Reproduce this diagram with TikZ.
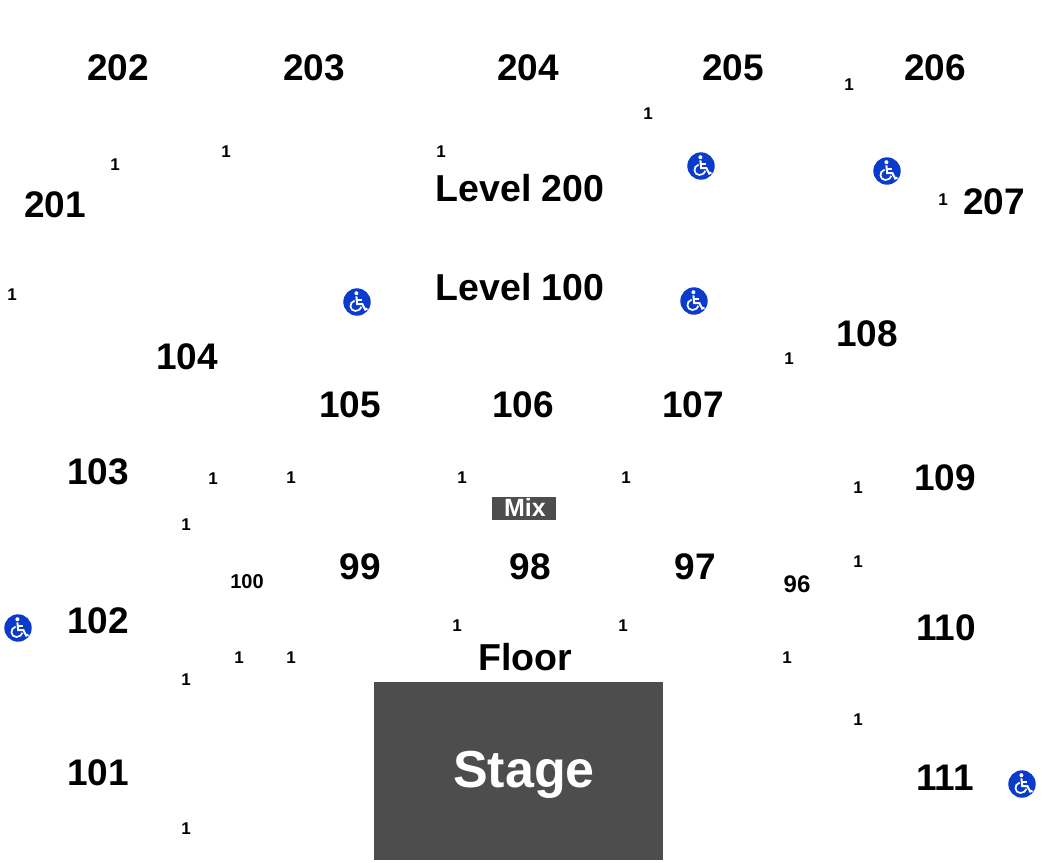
\documentclass[tikz,border=0pt]{standalone}
\usepackage{fontspec}
\setmainfont{Liberation Sans}
\definecolor{stagegray}{HTML}{4D4D4D}
\definecolor{wcblue}{HTML}{0A3BCC}
\tikzset{
  sec/.style={font=\fontsize{37}{37}\selectfont\bfseries,text=black,inner sep=0pt,anchor=center},
  lvl/.style={font=\fontsize{37.5}{38}\selectfont\bfseries,text=black,inner sep=0pt,anchor=center},
  cnt/.style={font=\fontsize{17}{17}\selectfont\bfseries,text=black,inner sep=0pt,anchor=center},
  wc/.pic={
    \fill[wcblue] (0,0) circle (13.7);
    \fill[white] (-0.6,-8.8) circle (2);
    \draw[white,line width=2,line join=miter] (-0.6,-5.6) -- (0.2,2.2) -- (5.4,2.2) -- (8.2,7.6) -- (10.4,6.6);
    \draw[white,line width=1.6] (0,-1.8) -- (5,-1.8);
    \draw[white,line width=1.7] (-2.4,-1.4) .. controls (-8.4,0.4) and (-7.6,9) .. (-1.6,9) .. controls (1.6,9) and (3.8,7) .. (4.4,4.8);
  }
}
\begin{document}
\begin{tikzpicture}[x=1pt,y=-1pt]
\useasboundingbox (0,0) rectangle (1043,862);
\fill[white] (0,0) rectangle (1043,862);
% stage and mix
\node[fill=stagegray,draw=none,minimum width=289,minimum height=178,inner sep=0pt] (stage) at (518.5,771) {};
\node[font=\fontsize{52}{52}\selectfont\bfseries,text=white,inner sep=0pt] (stagelabel) at (524,775) {Stage};
\node[fill=stagegray,minimum width=64,minimum height=23,inner sep=0pt] (mix) at (524,508) {};
\node[font=\fontsize{25}{25}\selectfont\bfseries,text=white,inner sep=0pt] (mixlabel) at (525,507.5) {Mix};
% sections
\foreach \n/\x/\y in {202/118/68,203/314/68,204/528/68,205/733/68,206/935/68,201/55/205,207/994/202,
 104/187/357,108/867/334,105/350/405,106/523/405,107/693/405,103/98/472,109/945/478,
 99/360/567,98/530/567,97/695/567,102/98/621,110/946/628,101/98/773,111/945/778}
  \node[sec] (s\n) at (\x,\y) {\n};
\node[lvl] (l200) at (520,188.5) {Level 200};
\node[lvl] (l100) at (520,287.5) {Level 100};
\node[lvl] (floor) at (525,657) {Floor};
\node[font=\fontsize{20}{20}\selectfont\bfseries,inner sep=0pt] (s100) at (247,582) {100};
\node[font=\fontsize{24}{24}\selectfont\bfseries,inner sep=0pt] (s96) at (797,584) {96};
% seat counts
\foreach \i/\x/\y in {a/849/85,b/648/114,c/115/165,d/226/152,e/441/152,f/943/200,g/12/295,h/789/359,
 i/213/479,j/291/478,k/462/478,l/626/478,m/858/488,n/186/525,o/858/562,p/457/626,q/623/626,
 r/239/658,s/291/658,t/787/658,u/186/680,v/858/720,w/186/829}
  \node[cnt] (c\i) at (\x,\y) {1};
% accessibility icons
\foreach \i/\x/\y in {1/701/166,2/887/171,3/357/302,4/694/301,5/18/628,6/1022/784}
  \pic (w\i) at (\x,\y) {wc};
\end{tikzpicture}
\end{document}
